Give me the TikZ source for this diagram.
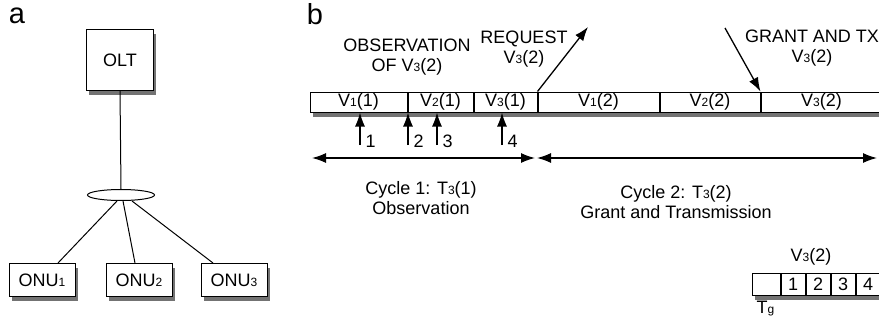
\documentclass[tikz,border=0pt]{standalone}
\usepackage{fontspec}
\setmainfont{Liberation Sans}
\usetikzlibrary{positioning, shapes.geometric, arrows.meta}

\newcommand{\ix}[1]{{\fontsize{12}{12}\selectfont #1}}

\begin{document}
\begin{tikzpicture}[x=1pt, y=-1pt, line width=1pt,
	box/.style={draw, fill=white, inner sep=0pt},
	cell/.style={box, minimum height=20pt, font=\fontsize{18}{20}\selectfont},
	tiny/.style={box, minimum height=22pt, minimum width=24pt, font=\fontsize{18}{20}\selectfont},
	txt/.style={align=center, font=\fontsize{18}{20}\selectfont},
	boxshadow/.style={fill=black!55, draw=none},
	arr/.style={line width=1.3pt, -{Latex[length=14pt, width=10pt]}},
	darr/.style={line width=1.3pt, {Latex[length=14pt, width=10pt]}-{Latex[length=14pt, width=10pt]}}]

	\useasboundingbox (0,0) rectangle (879,324);

	% shadows, drawn first so the boxes sit on them
	\foreach \xa/\ya/\xb/\yb in {89/34/156/95, 11.5/268/77.5/301, 108.5/268/174.5/301,
			203.5/268/269.5/301, 312.5/96.5/879/116.5, 754.5/277.5/878.5/299.5}
		\fill[boxshadow] (\xa,\ya) rectangle (\xb,\yb);

	% (a) network
	\node[font=\fontsize{29}{29}\selectfont, inner sep=0pt] (la) at (17,16) {a};
	\node[box, minimum width=67pt, minimum height=61pt, font=\fontsize{18}{20}\selectfont] (olt) at (120,60) {OLT};
	\node[draw, ellipse, fill=white, minimum width=67pt, minimum height=11pt, inner sep=0pt] (split) at (121,195) {};
	\node[box, minimum width=66pt, minimum height=33pt, font=\fontsize{18}{20}\selectfont] (onu1) at (42,280) {ONU\ix{1}};
	\node[box, minimum width=66pt, minimum height=33pt, font=\fontsize{18}{20}\selectfont] (onu2) at (139,280) {ONU\ix{2}};
	\node[box, minimum width=66pt, minimum height=33pt, font=\fontsize{18}{20}\selectfont] (onu3) at (234,280) {ONU\ix{3}};

	\draw (olt.south) -- (split.north);
	\draw ([xshift=-4pt]split.south) -- ([xshift=16pt]onu1.north);
	\draw ([xshift=2pt]split.south) -- ([xshift=-4pt]onu2.north);
	\draw ([xshift=11pt]split.south) -- ([xshift=-21pt]onu3.north);

	% (b) cycles
	\node[font=\fontsize{29}{29}\selectfont, inner sep=0pt] (lb) at (315,14) {b};

	\node[cell, minimum width=97pt] (c11) at (358.5,102) {V\ix{1}(1)};
	\node[cell, minimum width=65pt, right=0pt of c11] (c21) {V\ix{2}(1)};
	\node[cell, minimum width=63pt, right=0pt of c21] (c31) {V\ix{3}(1)};
	\node[cell, minimum width=121pt, right=0pt of c31] (c12) {V\ix{1}(2)};
	\node[cell, minimum width=100pt, right=0pt of c12] (c22) {V\ix{2}(2)};
	\node[cell, minimum width=121pt, right=0pt of c22] (c32) {V\ix{3}(2)};

	\node[txt] (obs) at (407,57) {OBSERVATION\\OF V\ix{3}(2)};
	\node[txt] (req) at (524,49) {REQUEST\\V\ix{3}(2)};
	\node[txt] (gnt) at (812,48) {GRANT AND TX\\V\ix{3}(2)};

	\coordinate (reqtip) at (588,27);
	\coordinate (gnttail) at (725,28);
	\draw[arr] (c12.north west) -- (reqtip);
	\draw[arr] (gnttail) -- (c32.north west);

	% observation instants
	\foreach \x/\n in {360/1, 408/2, 437/3, 502/4} {
		\coordinate (t\n) at (\x,145);
		\draw[arr] (t\n) -- (t\n |- c11.south);
		\node[txt, anchor=west, inner sep=1pt] (n\n) at (\x+4,141) {\n};
	}

	\coordinate (a1) at (312,158);
	\coordinate (a2) at (535,158);
	\coordinate (a3) at (537,158);
	\coordinate (a4) at (877,158);
	\draw[darr] (a1) -- (a2);
	\draw[darr] (a3) -- (a4);

	\node[txt] (cyc1) at (421,198) {Cycle 1: T\ix{3}(1)\\Observation};
	\node[txt] (cyc2) at (676,202) {Cycle 2: T\ix{3}(2)\\Grant and Transmission};

	% slot of V3(2)
	\node[txt] (v32) at (811,257) {V\ix{3}(2)};
	\node[tiny, minimum width=28pt] (g) at (766,284) {};
	\node[tiny, right=0pt of g] (s1) {1};
	\node[tiny, right=0pt of s1] (s2) {2};
	\node[tiny, right=0pt of s2] (s3) {3};
	\node[tiny, right=0pt of s3] (s4) {4};
	\node[txt, anchor=north west, inner sep=0pt] (tg) at (756,301) {T\ix{g}};
\end{tikzpicture}
\end{document}
